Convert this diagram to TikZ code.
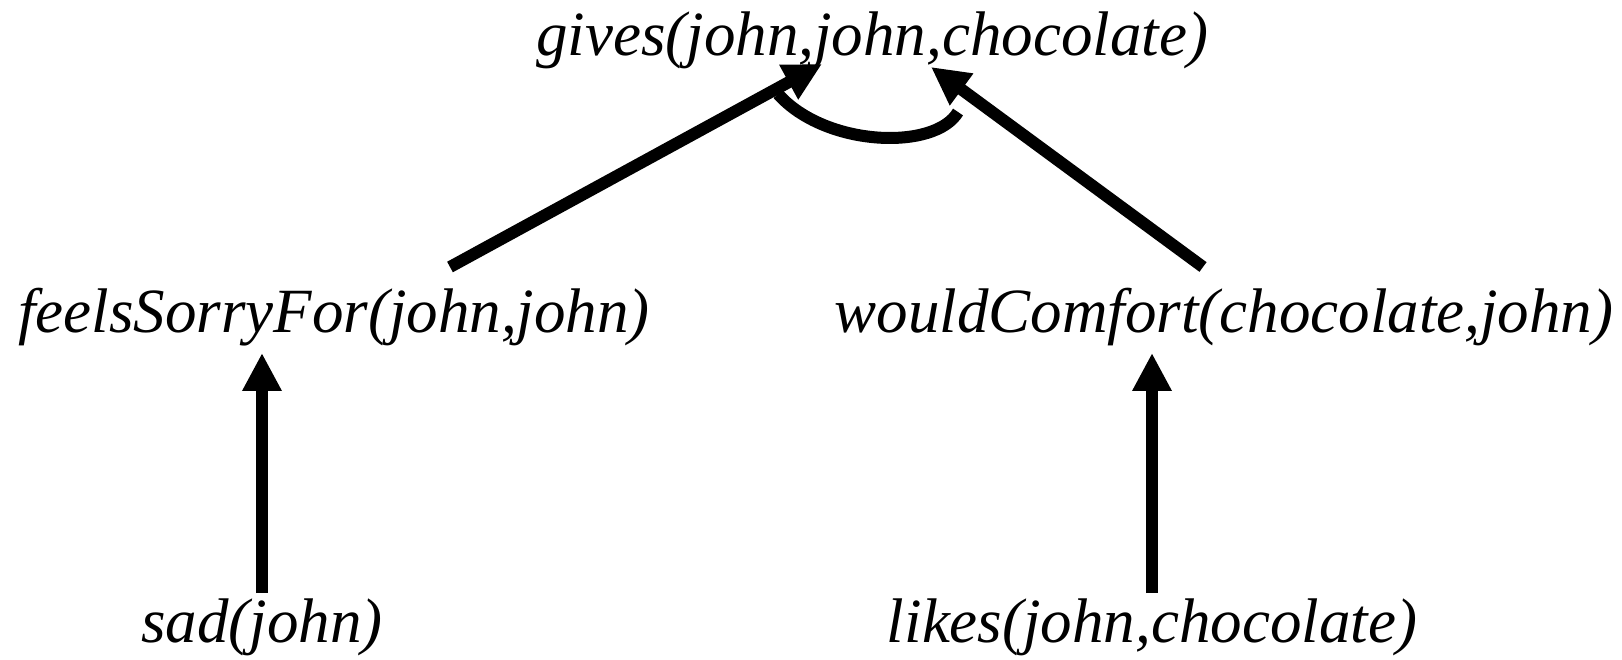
\documentclass[tikz,border=0pt]{standalone}
\usepackage{fontspec}
\setmainfont{Liberation Serif}
\usetikzlibrary{arrows.meta}
\begin{document}
\begin{tikzpicture}[x=1pt,y=1pt,
  lbl/.style={anchor=base,inner sep=0pt,font=\fontsize{63}{70}\selectfont\itshape},
  arr/.style={line width=12pt,-{Triangle[length=38pt,width=37pt]}},
  link/.style={line width=12pt}]
\useasboundingbox (0,0) rectangle (1622,659);
\node[lbl] (gives) at (872,603) {gives(john,john,chocolate)};
\node[lbl] (feels) at (334,326) {feelsSorryFor(john,john)};
\node[lbl] (would) at (1224,326) {wouldComfort(chocolate,john)};
\node[lbl] (sad) at (262,17) {sad(john)};
\node[lbl] (likes) at (1152,17) {likes(john,chocolate)};
\coordinate (fsTop) at (450,392);
\coordinate (wcTop) at (1203,392);
\coordinate (gL) at (822,595);
\coordinate (gR) at (931,592);
\draw[arr,shorten <=5pt] (sad.north) -- (sad.north |- 0,306);
\draw[arr,shorten <=5pt] (likes.north) -- (likes.north |- 0,306);
\draw[arr] (fsTop) -- (gL);
\draw[arr] (wcTop) -- (gR);
\draw[link] (778,565) .. controls (825,512) and (935,508) .. (958,547);
\end{tikzpicture}
\end{document}
